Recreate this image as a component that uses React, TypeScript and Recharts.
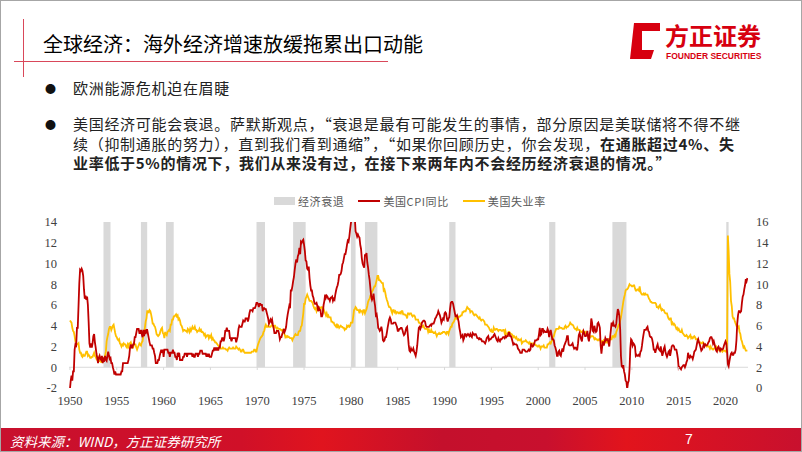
import { LineChart, Line, XAxis, YAxis, ReferenceArea, ReferenceLine } from 'recharts';

// monthly, Jan 1950 - May 2022
const cpiYoY = [
  -2.1, -1.3, -0.8, -1.3, -0.4, -0.4, 1.7, 2.2, 2.1, 3.8, 3.8, 5.9,
  8.1, 9.4, 9.3, 9.5, 9.3, 8.8, 7.5, 6.6, 6.9, 6.5, 6.8, 6.0,
  4.3, 2.3, 1.9, 2.3, 1.9, 2.3, 3.0, 3.2, 2.4, 1.9, 1.3, 0.9,
  0.4, 0.9, 1.1, 0.8, 0.7, 1.1, 0.4, 0.8, 0.7, 1.1, 0.7, 0.6,
  1.1, 1.5, 1.1, 0.8, 0.9, 0.4, 0.4, 0.0, -0.3, -0.7, -0.4, -0.7,
  -0.7, -0.7, -0.7, -0.7, -0.7, -0.7, -0.4, -0.4, 0.4, 0.4, 0.4, 0.4,
  0.4, 0.4, 0.4, 0.7, 1.1, 1.9, 2.2, 1.9, 1.9, 2.2, 2.2, 2.9,
  2.9, 3.3, 3.7, 3.7, 3.7, 3.3, 3.3, 3.6, 3.2, 2.9, 3.6, 3.0,
  3.6, 3.2, 3.6, 3.6, 3.2, 2.8, 2.4, 2.1, 2.1, 2.1, 1.8, 1.8,
  1.4, 1.1, 0.4, 0.4, 0.4, 0.7, 0.7, 1.1, 1.4, 1.7, 1.4, 1.7,
  1.0, 1.7, 1.7, 1.7, 1.7, 1.7, 1.4, 1.4, 1.0, 1.4, 1.4, 1.4,
  1.7, 1.4, 1.4, 1.0, 1.0, 0.7, 1.4, 1.0, 1.4, 0.7, 0.7, 0.7,
  0.7, 1.0, 1.0, 1.3, 1.3, 1.3, 1.0, 1.3, 1.3, 1.3, 1.3, 1.3,
  1.3, 1.0, 1.3, 1.0, 1.0, 1.3, 1.3, 1.3, 1.0, 1.3, 1.3, 1.6,
  1.6, 1.6, 1.3, 1.3, 1.3, 1.3, 1.3, 1.0, 1.3, 1.0, 1.3, 1.0,
  1.0, 1.0, 1.3, 1.6, 1.6, 1.9, 1.6, 1.9, 1.6, 1.9, 1.6, 1.9,
  1.9, 2.5, 2.5, 2.8, 2.8, 2.5, 2.8, 3.5, 3.5, 3.8, 3.5, 3.5,
  3.5, 2.8, 2.8, 2.5, 2.8, 2.8, 2.8, 2.8, 2.8, 2.4, 2.7, 3.0,
  3.7, 4.0, 3.9, 3.9, 3.9, 4.2, 4.5, 4.4, 4.4, 4.7, 4.7, 4.7,
  4.4, 4.7, 5.2, 5.5, 5.5, 5.5, 5.4, 5.7, 5.7, 5.7, 5.9, 6.2,
  6.2, 6.1, 5.8, 6.1, 6.1, 6.0, 6.0, 5.4, 5.7, 5.7, 5.6, 5.6,
  5.3, 5.0, 4.7, 4.2, 4.4, 4.6, 4.4, 4.6, 4.1, 3.8, 3.3, 3.3,
  3.3, 3.5, 3.5, 3.5, 3.2, 2.7, 2.9, 2.9, 3.2, 3.4, 3.7, 3.4,
  3.6, 3.9, 4.6, 5.1, 5.5, 5.9, 5.7, 7.4, 7.4, 7.8, 8.3, 8.7,
  9.4, 10.0, 10.4, 10.1, 10.7, 10.9, 11.5, 10.9, 12.1, 12.0, 12.2, 12.3,
  11.8, 11.2, 10.3, 10.2, 9.5, 9.4, 9.7, 8.6, 7.9, 7.4, 7.4, 6.9,
  6.7, 6.3, 6.1, 6.1, 6.2, 5.9, 5.4, 5.7, 5.5, 5.5, 4.9, 4.9,
  5.2, 6.0, 6.4, 7.0, 6.7, 6.9, 6.8, 6.6, 6.6, 6.4, 6.7, 6.7,
  6.8, 6.4, 6.6, 6.5, 7.0, 7.4, 7.7, 7.9, 8.3, 8.9, 8.9, 9.0,
  9.3, 9.9, 10.1, 10.5, 10.9, 10.9, 11.3, 11.8, 12.2, 12.1, 12.6, 13.3,
  13.9, 14.2, 14.8, 14.7, 14.4, 14.4, 13.1, 12.9, 12.6, 12.8, 12.6, 12.5,
  11.8, 11.4, 10.5, 10.0, 9.8, 9.6, 10.8, 10.8, 11.0, 10.1, 9.6, 8.9,
  8.4, 7.6, 6.8, 6.5, 6.7, 7.1, 6.4, 5.9, 5.0, 5.1, 4.6, 3.8,
  3.7, 3.5, 3.6, 3.9, 3.5, 2.6, 2.5, 2.6, 2.9, 2.9, 3.3, 3.8,
  4.2, 4.6, 4.8, 4.6, 4.2, 4.2, 4.2, 4.3, 4.3, 4.3, 4.1, 3.9,
  3.5, 3.5, 3.7, 3.7, 3.8, 3.8, 3.6, 3.3, 3.1, 3.2, 3.5, 3.8,
  3.9, 3.1, 2.2, 1.6, 1.5, 1.8, 1.6, 1.6, 1.8, 1.5, 1.3, 1.1,
  1.5, 2.1, 3.0, 3.8, 3.9, 3.7, 3.9, 4.3, 4.4, 4.5, 4.5, 4.4,
  4.0, 3.9, 3.9, 3.9, 3.9, 4.0, 4.1, 4.0, 4.2, 4.2, 4.2, 4.4,
  4.7, 4.8, 5.0, 5.1, 5.4, 5.2, 5.0, 4.7, 4.3, 4.5, 4.7, 4.6,
  5.2, 5.3, 5.2, 4.7, 4.4, 4.7, 4.8, 5.6, 6.2, 6.3, 6.3, 6.1,
  5.7, 5.3, 4.9, 4.9, 5.0, 4.7, 4.4, 3.8, 3.4, 2.9, 3.0, 3.1,
  2.6, 2.8, 3.2, 3.2, 3.0, 3.1, 3.2, 3.1, 3.0, 3.2, 3.0, 2.9,
  3.3, 3.2, 3.1, 3.2, 3.2, 3.0, 2.8, 2.8, 2.7, 2.8, 2.7, 2.7,
  2.5, 2.5, 2.5, 2.4, 2.3, 2.5, 2.8, 2.9, 3.0, 2.6, 2.7, 2.7,
  2.8, 2.9, 2.9, 3.1, 3.2, 3.0, 2.8, 2.6, 2.5, 2.8, 2.6, 2.5,
  2.7, 2.7, 2.8, 2.9, 2.9, 2.8, 3.0, 2.9, 3.0, 3.0, 3.3, 3.3,
  3.0, 3.0, 2.8, 2.5, 2.2, 2.3, 2.2, 2.2, 2.2, 2.1, 1.8, 1.7,
  1.6, 1.4, 1.4, 1.4, 1.7, 1.7, 1.7, 1.6, 1.5, 1.5, 1.5, 1.6,
  1.7, 1.6, 1.7, 2.3, 2.1, 2.0, 2.1, 2.3, 2.6, 2.6, 2.6, 2.7,
  2.7, 3.2, 3.8, 3.1, 3.2, 3.7, 3.7, 3.4, 3.5, 3.4, 3.4, 3.4,
  3.7, 3.5, 2.9, 3.3, 3.6, 3.2, 2.7, 2.7, 2.6, 2.1, 1.9, 1.6,
  1.1, 1.1, 1.5, 1.6, 1.2, 1.1, 1.5, 1.8, 1.5, 2.0, 2.2, 2.4,
  2.6, 3.0, 3.0, 2.2, 2.1, 2.1, 2.1, 2.2, 2.3, 2.0, 1.8, 1.9,
  1.9, 1.7, 1.7, 2.3, 3.1, 3.3, 3.0, 2.7, 2.5, 3.2, 3.5, 3.3,
  3.0, 3.0, 3.1, 3.5, 2.8, 2.5, 3.2, 3.6, 4.7, 4.3, 3.5, 3.4,
  4.0, 3.6, 3.4, 3.5, 4.2, 4.3, 4.1, 3.8, 2.1, 1.3, 2.0, 2.5,
  2.1, 2.4, 2.8, 2.6, 2.7, 2.7, 2.4, 2.0, 2.8, 3.5, 4.3, 4.1,
  4.3, 4.0, 4.0, 3.9, 4.2, 5.0, 5.6, 5.4, 4.9, 3.7, 1.1, 0.1,
  0.0, 0.2, -0.4, -0.7, -1.3, -1.4, -2.1, -1.5, -1.3, -0.2, 1.8, 2.7,
  2.6, 2.1, 2.3, 2.2, 2.0, 1.1, 1.2, 1.1, 1.1, 1.2, 1.1, 1.5,
  1.6, 2.1, 2.7, 3.2, 3.6, 3.6, 3.6, 3.8, 3.9, 3.5, 3.4, 3.0,
  2.9, 2.9, 2.7, 2.3, 1.7, 1.7, 1.4, 1.7, 2.0, 2.2, 1.8, 1.7,
  1.6, 2.0, 1.5, 1.1, 1.4, 1.8, 2.0, 1.5, 1.2, 1.0, 1.2, 1.5,
  1.6, 1.1, 1.5, 2.0, 2.1, 2.1, 2.0, 1.7, 1.7, 1.7, 1.3, 0.8,
  -0.1, 0.0, -0.1, -0.2, 0.0, 0.1, 0.2, 0.2, 0.0, 0.2, 0.5, 0.7,
  1.4, 1.0, 0.9, 1.1, 1.0, 1.0, 0.8, 1.1, 1.5, 1.6, 1.7, 2.1,
  2.5, 2.7, 2.4, 2.2, 1.9, 1.6, 1.7, 1.9, 2.2, 2.0, 2.2, 2.1,
  2.1, 2.2, 2.4, 2.5, 2.8, 2.9, 2.9, 2.7, 2.3, 2.5, 2.2, 1.9,
  1.6, 1.5, 1.9, 2.0, 1.8, 1.6, 1.8, 1.7, 1.7, 1.8, 2.1, 2.3,
  2.5, 2.3, 1.5, 0.3, 0.1, 0.6, 1.0, 1.3, 1.4, 1.2, 1.2, 1.4,
  1.4, 1.7, 2.6, 4.2, 5.0, 5.4, 5.4, 5.3, 5.4, 6.2, 6.8, 7.0,
  7.5, 7.9, 8.5, 8.3, 8.6,
];

const unemployment = [
  6.5, 6.4, 6.3, 5.8, 5.5, 5.4, 5.0, 4.5, 4.4, 4.2, 4.2, 4.3,
  3.7, 3.4, 3.4, 3.1, 3.0, 3.2, 3.1, 3.1, 3.3, 3.5, 3.5, 3.1,
  3.2, 3.1, 2.9, 2.9, 3.0, 3.0, 3.2, 3.4, 3.1, 3.0, 2.8, 2.7,
  2.9, 2.6, 2.6, 2.7, 2.5, 2.5, 2.6, 2.7, 2.9, 3.1, 3.5, 4.5,
  4.9, 5.2, 5.7, 5.9, 5.9, 5.6, 5.8, 6.0, 6.1, 5.7, 5.3, 5.0,
  4.9, 4.7, 4.6, 4.7, 4.3, 4.2, 4.0, 4.2, 4.1, 4.3, 4.2, 4.2,
  4.0, 3.9, 4.2, 4.0, 4.3, 4.3, 4.4, 4.1, 3.9, 3.9, 4.3, 4.2,
  4.2, 3.9, 3.7, 3.9, 4.1, 4.3, 4.2, 4.1, 4.4, 4.5, 5.1, 5.2,
  5.8, 6.4, 6.7, 7.4, 7.4, 7.3, 7.5, 7.4, 7.1, 6.7, 6.2, 6.2,
  6.0, 5.9, 5.6, 5.2, 5.1, 5.0, 5.1, 5.2, 5.5, 5.7, 5.8, 5.3,
  5.2, 4.8, 5.4, 5.2, 5.1, 5.4, 5.5, 5.6, 5.5, 6.1, 6.1, 6.6,
  6.6, 6.9, 6.9, 7.0, 7.1, 6.9, 7.0, 6.6, 6.7, 6.5, 6.1, 6.0,
  5.8, 5.5, 5.6, 5.6, 5.5, 5.5, 5.4, 5.7, 5.6, 5.4, 5.7, 5.5,
  5.7, 5.9, 5.7, 5.7, 5.9, 5.6, 5.6, 5.4, 5.5, 5.5, 5.7, 5.5,
  5.6, 5.4, 5.4, 5.3, 5.1, 5.2, 4.9, 5.0, 5.1, 5.1, 4.8, 5.0,
  4.9, 5.1, 4.7, 4.8, 4.6, 4.6, 4.4, 4.4, 4.3, 4.2, 4.1, 4.0,
  4.0, 3.8, 3.8, 3.8, 3.9, 3.8, 3.8, 3.8, 3.7, 3.7, 3.6, 3.8,
  3.9, 3.8, 3.8, 3.8, 3.8, 3.9, 3.8, 3.8, 3.8, 4.0, 3.9, 3.8,
  3.7, 3.8, 3.7, 3.5, 3.5, 3.7, 3.7, 3.5, 3.4, 3.4, 3.4, 3.4,
  3.4, 3.4, 3.4, 3.4, 3.4, 3.5, 3.5, 3.5, 3.7, 3.7, 3.5, 3.5,
  3.9, 4.2, 4.4, 4.6, 4.8, 4.9, 5.0, 5.1, 5.4, 5.5, 5.9, 6.1,
  5.9, 5.9, 6.0, 5.9, 5.9, 5.9, 6.0, 6.1, 6.0, 5.8, 6.0, 6.0,
  5.8, 5.7, 5.8, 5.7, 5.7, 5.7, 5.6, 5.6, 5.5, 5.6, 5.3, 5.2,
  4.9, 5.0, 4.9, 5.0, 4.9, 4.9, 4.8, 4.8, 4.8, 4.6, 4.8, 4.9,
  5.1, 5.2, 5.1, 5.1, 5.1, 5.4, 5.5, 5.5, 5.9, 6.0, 6.6, 7.2,
  8.1, 8.1, 8.6, 8.8, 9.0, 8.8, 8.6, 8.4, 8.4, 8.4, 8.3, 8.2,
  7.9, 7.7, 7.6, 7.7, 7.4, 7.6, 7.8, 7.8, 7.6, 7.7, 7.8, 7.8,
  7.5, 7.6, 7.4, 7.2, 7.0, 7.2, 6.9, 7.0, 6.8, 6.8, 6.8, 6.4,
  6.4, 6.3, 6.3, 6.1, 6.0, 5.9, 6.2, 5.9, 6.0, 5.8, 5.9, 6.0,
  5.9, 5.9, 5.8, 5.8, 5.6, 5.7, 5.7, 6.0, 5.9, 6.0, 5.9, 6.0,
  6.3, 6.3, 6.3, 6.9, 7.5, 7.6, 7.8, 7.7, 7.5, 7.5, 7.5, 7.2,
  7.5, 7.4, 7.4, 7.2, 7.5, 7.5, 7.2, 7.4, 7.6, 7.9, 8.3, 8.5,
  8.6, 8.9, 9.0, 9.3, 9.4, 9.6, 9.8, 9.8, 10.1, 10.4, 10.8, 10.8,
  10.4, 10.4, 10.3, 10.2, 10.1, 10.1, 9.4, 9.5, 9.2, 8.8, 8.5, 8.3,
  8.0, 7.8, 7.8, 7.7, 7.4, 7.2, 7.5, 7.5, 7.3, 7.4, 7.2, 7.3,
  7.3, 7.2, 7.2, 7.3, 7.2, 7.4, 7.4, 7.1, 7.1, 7.1, 7.0, 7.0,
  6.7, 7.2, 7.2, 7.1, 7.2, 7.2, 7.0, 6.9, 7.0, 7.0, 6.9, 6.6,
  6.6, 6.6, 6.6, 6.3, 6.3, 6.2, 6.1, 6.0, 5.9, 6.0, 5.8, 5.7,
  5.7, 5.7, 5.7, 5.4, 5.6, 5.4, 5.4, 5.6, 5.4, 5.4, 5.3, 5.3,
  5.4, 5.2, 5.0, 5.2, 5.2, 5.3, 5.2, 5.2, 5.3, 5.3, 5.4, 5.4,
  5.4, 5.3, 5.2, 5.4, 5.4, 5.2, 5.5, 5.7, 5.9, 5.9, 6.2, 6.3,
  6.4, 6.6, 6.8, 6.7, 6.9, 6.9, 6.8, 6.9, 6.9, 7.0, 7.0, 7.3,
  7.3, 7.4, 7.4, 7.4, 7.6, 7.8, 7.7, 7.6, 7.6, 7.3, 7.4, 7.4,
  7.3, 7.1, 7.0, 7.1, 7.1, 7.0, 6.9, 6.8, 6.7, 6.8, 6.6, 6.5,
  6.6, 6.6, 6.5, 6.4, 6.1, 6.1, 6.1, 6.0, 5.9, 5.8, 5.6, 5.5,
  5.6, 5.4, 5.4, 5.8, 5.6, 5.6, 5.7, 5.7, 5.6, 5.5, 5.6, 5.6,
  5.6, 5.5, 5.5, 5.6, 5.6, 5.3, 5.5, 5.1, 5.2, 5.2, 5.4, 5.4,
  5.3, 5.2, 5.2, 5.1, 4.9, 5.0, 4.9, 4.8, 4.9, 4.7, 4.6, 4.7,
  4.6, 4.6, 4.7, 4.3, 4.4, 4.5, 4.5, 4.5, 4.6, 4.5, 4.4, 4.4,
  4.3, 4.4, 4.2, 4.3, 4.2, 4.3, 4.3, 4.2, 4.2, 4.1, 4.1, 4.0,
  4.0, 4.1, 4.0, 3.8, 4.0, 4.0, 4.0, 4.1, 3.9, 3.9, 3.9, 3.9,
  4.2, 4.2, 4.3, 4.4, 4.3, 4.5, 4.6, 4.9, 5.0, 5.3, 5.5, 5.7,
  5.7, 5.7, 5.7, 5.9, 5.8, 5.8, 5.8, 5.7, 5.7, 5.7, 5.9, 6.0,
  5.8, 5.9, 5.9, 6.0, 6.1, 6.3, 6.2, 6.1, 6.1, 6.0, 5.8, 5.7,
  5.7, 5.6, 5.8, 5.6, 5.6, 5.6, 5.5, 5.4, 5.4, 5.5, 5.4, 5.4,
  5.3, 5.4, 5.2, 5.2, 5.1, 5.0, 5.0, 4.9, 5.0, 5.0, 5.0, 4.9,
  4.7, 4.8, 4.7, 4.7, 4.6, 4.6, 4.7, 4.7, 4.5, 4.4, 4.5, 4.4,
  4.6, 4.5, 4.4, 4.5, 4.4, 4.6, 4.7, 4.6, 4.7, 4.7, 4.7, 5.0,
  5.0, 4.9, 5.1, 5.0, 5.4, 5.6, 5.8, 6.1, 6.1, 6.5, 6.8, 7.3,
  7.8, 8.3, 8.7, 9.0, 9.4, 9.5, 9.5, 9.6, 9.8, 10.0, 9.9, 9.9,
  9.8, 9.8, 9.9, 9.9, 9.6, 9.4, 9.4, 9.5, 9.5, 9.4, 9.8, 9.3,
  9.1, 9.0, 9.0, 9.1, 9.0, 9.1, 9.0, 9.0, 9.0, 8.8, 8.6, 8.5,
  8.3, 8.3, 8.2, 8.2, 8.2, 8.2, 8.2, 8.1, 7.8, 7.8, 7.7, 7.9,
  8.0, 7.7, 7.5, 7.6, 7.5, 7.5, 7.3, 7.2, 7.2, 7.2, 6.9, 6.7,
  6.6, 6.7, 6.7, 6.2, 6.3, 6.1, 6.2, 6.1, 5.9, 5.7, 5.8, 5.6,
  5.7, 5.5, 5.4, 5.4, 5.6, 5.3, 5.2, 5.1, 5.0, 5.0, 5.1, 5.0,
  4.8, 4.9, 5.0, 5.1, 4.8, 4.9, 4.8, 4.9, 5.0, 4.9, 4.7, 4.7,
  4.7, 4.6, 4.4, 4.4, 4.4, 4.3, 4.3, 4.4, 4.3, 4.2, 4.2, 4.1,
  4.0, 4.1, 4.0, 4.0, 3.8, 4.0, 3.8, 3.8, 3.7, 3.8, 3.8, 3.9,
  4.0, 3.8, 3.8, 3.7, 3.6, 3.6, 3.7, 3.6, 3.5, 3.6, 3.6, 3.6,
  3.5, 3.5, 4.4, 14.7, 13.2, 11.0, 10.2, 8.4, 7.9, 6.9, 6.7, 6.7,
  6.4, 6.2, 6.0, 6.1, 5.8, 5.9, 5.4, 5.2, 4.7, 4.5, 4.2, 3.9,
  4.0, 3.8, 3.6, 3.6, 3.6,
];

// NBER recessions (decimal years)
const recessionStart = [1953.58, 1957.58, 1960.25, 1969.92, 1973.83, 1980.0, 1981.5, 1990.5, 2001.17, 2007.92, 2020.08];
const recessionEnd = [1954.33, 1958.25, 1961.08, 1970.83, 1975.17, 1980.5, 1982.83, 1991.17, 2001.83, 2009.42, 2020.33];

const yearTicks = [1950, 1955, 1960, 1965, 1970, 1975, 1980, 1985, 1990, 1995, 2000, 2005, 2010, 2015, 2020];
const leftTicks = [-2, 0, 2, 4, 6, 8, 10, 12, 14];
const rightTicks = [0, 2, 4, 6, 8, 10, 12, 14, 16];

const legendItems = [
  { label: '经济衰退', kind: 'box', color: '#D9D9D9' },
  { label: '美国CPI同比', kind: 'line', color: '#C00000' },
  { label: '美国失业率', kind: 'line', color: '#FFC000' },
];

const chartData = cpiYoY.map((v, i) => ({
  t: 1950 + i / 12,
  cpi: v,
  unemp: unemployment[i],
}));

const tickFont = { fontFamily: '"Liberation Serif", serif', fontSize: 12.5, fill: '#404040' };

const YearTick = ({ x, y, payload }: any) => (
  <g>
    <line x1={x} x2={x} y1={y - 29} y2={y - 26} stroke="#D9D9D9" />
    <text x={x} y={y} dy="0.71em" textAnchor="middle" {...tickFont}>
      {payload.value}
    </text>
  </g>
);

function Logo() {
  return (
    <div style={{ position: 'absolute', left: 626, top: 20, width: 140, height: 40 }}>
      <svg width={34} height={40} style={{ position: 'absolute', left: 0, top: 0 }}>
        <path d="M7 2 H33 V10 H15 V29 H27 L24 38 H3 Z" fill="#D7000F" />
      </svg>
      <div
        style={{
          position: 'absolute', left: 38, top: 1, fontSize: 24, fontWeight: 700,
          color: '#D7000F', lineHeight: '26px', whiteSpace: 'nowrap',
        }}
      >
        方正证券
      </div>
      <div
        style={{
          position: 'absolute', left: 39, top: 30, fontSize: 8.5, fontWeight: 700, lineHeight: '10px',
          color: '#D7000F', fontFamily: '"Liberation Sans", sans-serif', whiteSpace: 'nowrap',
        }}
      >
        FOUNDER SECURITIES
      </div>
    </div>
  );
}

export default function App() {
  const bodyText = { fontSize: 15, letterSpacing: 0.7, color: '#222', whiteSpace: 'nowrap' as const, position: 'absolute' as const, left: 72, lineHeight: '20px' };
  const bullet = { position: 'absolute' as const, left: 44, fontSize: 11, color: '#111', lineHeight: '20px' };

  return (
    <div
      style={{
        position: 'absolute', left: 0, top: 0, width: 802, height: 452, background: '#fff',
        border: '1px solid #A6A6A6', boxSizing: 'border-box', overflow: 'hidden',
        fontFamily: '"Noto Sans CJK SC", sans-serif',
      }}
    >
      {/* header */}
      <div style={{ position: 'absolute', left: 22, top: 18, width: 1, height: 58, background: '#D9485A' }} />
      <div style={{ position: 'absolute', left: 13, top: 60, width: 374, height: 1, background: '#D9485A' }} />
      <div style={{ position: 'absolute', left: 42, top: 30, fontSize: 20, color: '#000', whiteSpace: 'nowrap', lineHeight: '26px' }}>
        全球经济：海外经济增速放缓拖累出口动能
      </div>
      <Logo />

      {/* bullets */}
      <div style={{ ...bullet, top: 77 }}>●</div>
      <div style={{ ...bodyText, top: 77 }}>欧洲能源危机迫在眉睫</div>
      <div style={{ ...bullet, top: 113 }}>●</div>
      <div style={{ ...bodyText, top: 113 }}>
        美国经济可能会衰退。萨默斯观点，“衰退是最有可能发生的事情，部分原因是美联储将不得不继
      </div>
      <div style={{ ...bodyText, top: 133 }}>
        续（抑制通胀的努力），直到我们看到通缩”，“如果你回顾历史，你会发现，
        <b>在通胀超过4%、失</b>
      </div>
      <div style={{ ...bodyText, top: 152, fontWeight: 700 }}>
        业率低于5%的情况下，我们从来没有过，在接下来两年内不会经历经济衰退的情况。”
      </div>

      {/* legend */}
      <div style={{ position: 'absolute', left: 273, top: 192, height: 16, display: 'flex', alignItems: 'center', whiteSpace: 'nowrap' }}>
        {legendItems.map((it, i) => (
          <div key={i} style={{ display: 'flex', alignItems: 'center', marginRight: 14 }}>
            {it.kind === 'box' ? (
              <div style={{ width: 21, height: 8, background: it.color }} />
            ) : (
              <div style={{ width: 22, height: 2, background: it.color }} />
            )}
            <span style={{ fontSize: 11, letterSpacing: 0.6, color: '#595959', marginLeft: 3 }}>{it.label}</span>
          </div>
        ))}
      </div>

      {/* chart */}
      <div style={{ position: 'absolute', left: 0, top: 210 }}>
        <LineChart width={802} height={200} data={chartData} margin={{ top: 11, right: 0, bottom: 3, left: 0 }}>
          <XAxis
            dataKey="t"
            type="number"
            domain={[1949.9, 2022.4]}
            ticks={yearTicks}
            allowDataOverflow
            axisLine={false}
            tickLine={false}
            height={20}
            tick={<YearTick />}
          />
          <YAxis
            yAxisId="left"
            domain={[-2, 14]}
            ticks={leftTicks}
            allowDataOverflow
            axisLine={false}
            tickLine={false}
            width={68}
            tickMargin={6}
            tick={tickFont}
          />
          <YAxis
            yAxisId="right"
            orientation="right"
            domain={[0, 16]}
            ticks={rightTicks}
            allowDataOverflow
            axisLine={false}
            tickLine={false}
            width={55}
            tick={tickFont}
          />
          {recessionStart.map((s, i) => (
            <ReferenceArea
              key={i}
              yAxisId="left"
              x1={s}
              x2={recessionEnd[i]}
              y1={0}
              y2={14}
              fill="#D9D9D9"
              fillOpacity={1}
              stroke="none"
            />
          ))}
          <ReferenceLine yAxisId="left" y={0} stroke="#D9D9D9" strokeWidth={1} />
          <Line yAxisId="right" dataKey="unemp" stroke="#FFC000" strokeWidth={1.8} dot={false} isAnimationActive={false} />
          <Line yAxisId="left" dataKey="cpi" stroke="#C00000" strokeWidth={1.8} dot={false} isAnimationActive={false} />
        </LineChart>
      </div>

      {/* footer */}
      <div
        style={{
          position: 'absolute', left: 0, top: 427, width: 802, height: 25,
          background: 'linear-gradient(90deg, #C8102E 0%, #D01028 30%, #E0141E 40%, #C4102C 55%, #C8102E 68%, #E2141C 78%, #C8102E 100%)',
        }}
      >
        <div style={{ position: 'absolute', left: 9, top: 3, fontSize: 13.5, fontStyle: 'italic', color: '#fff', whiteSpace: 'nowrap' }}>
          资料来源：WIND，方正证券研究所
        </div>
        <div style={{ position: 'absolute', left: 684, top: 3, fontSize: 14, color: '#fff', fontFamily: '"Liberation Sans", sans-serif' }}>
          7
        </div>
      </div>
    </div>
  );
}
